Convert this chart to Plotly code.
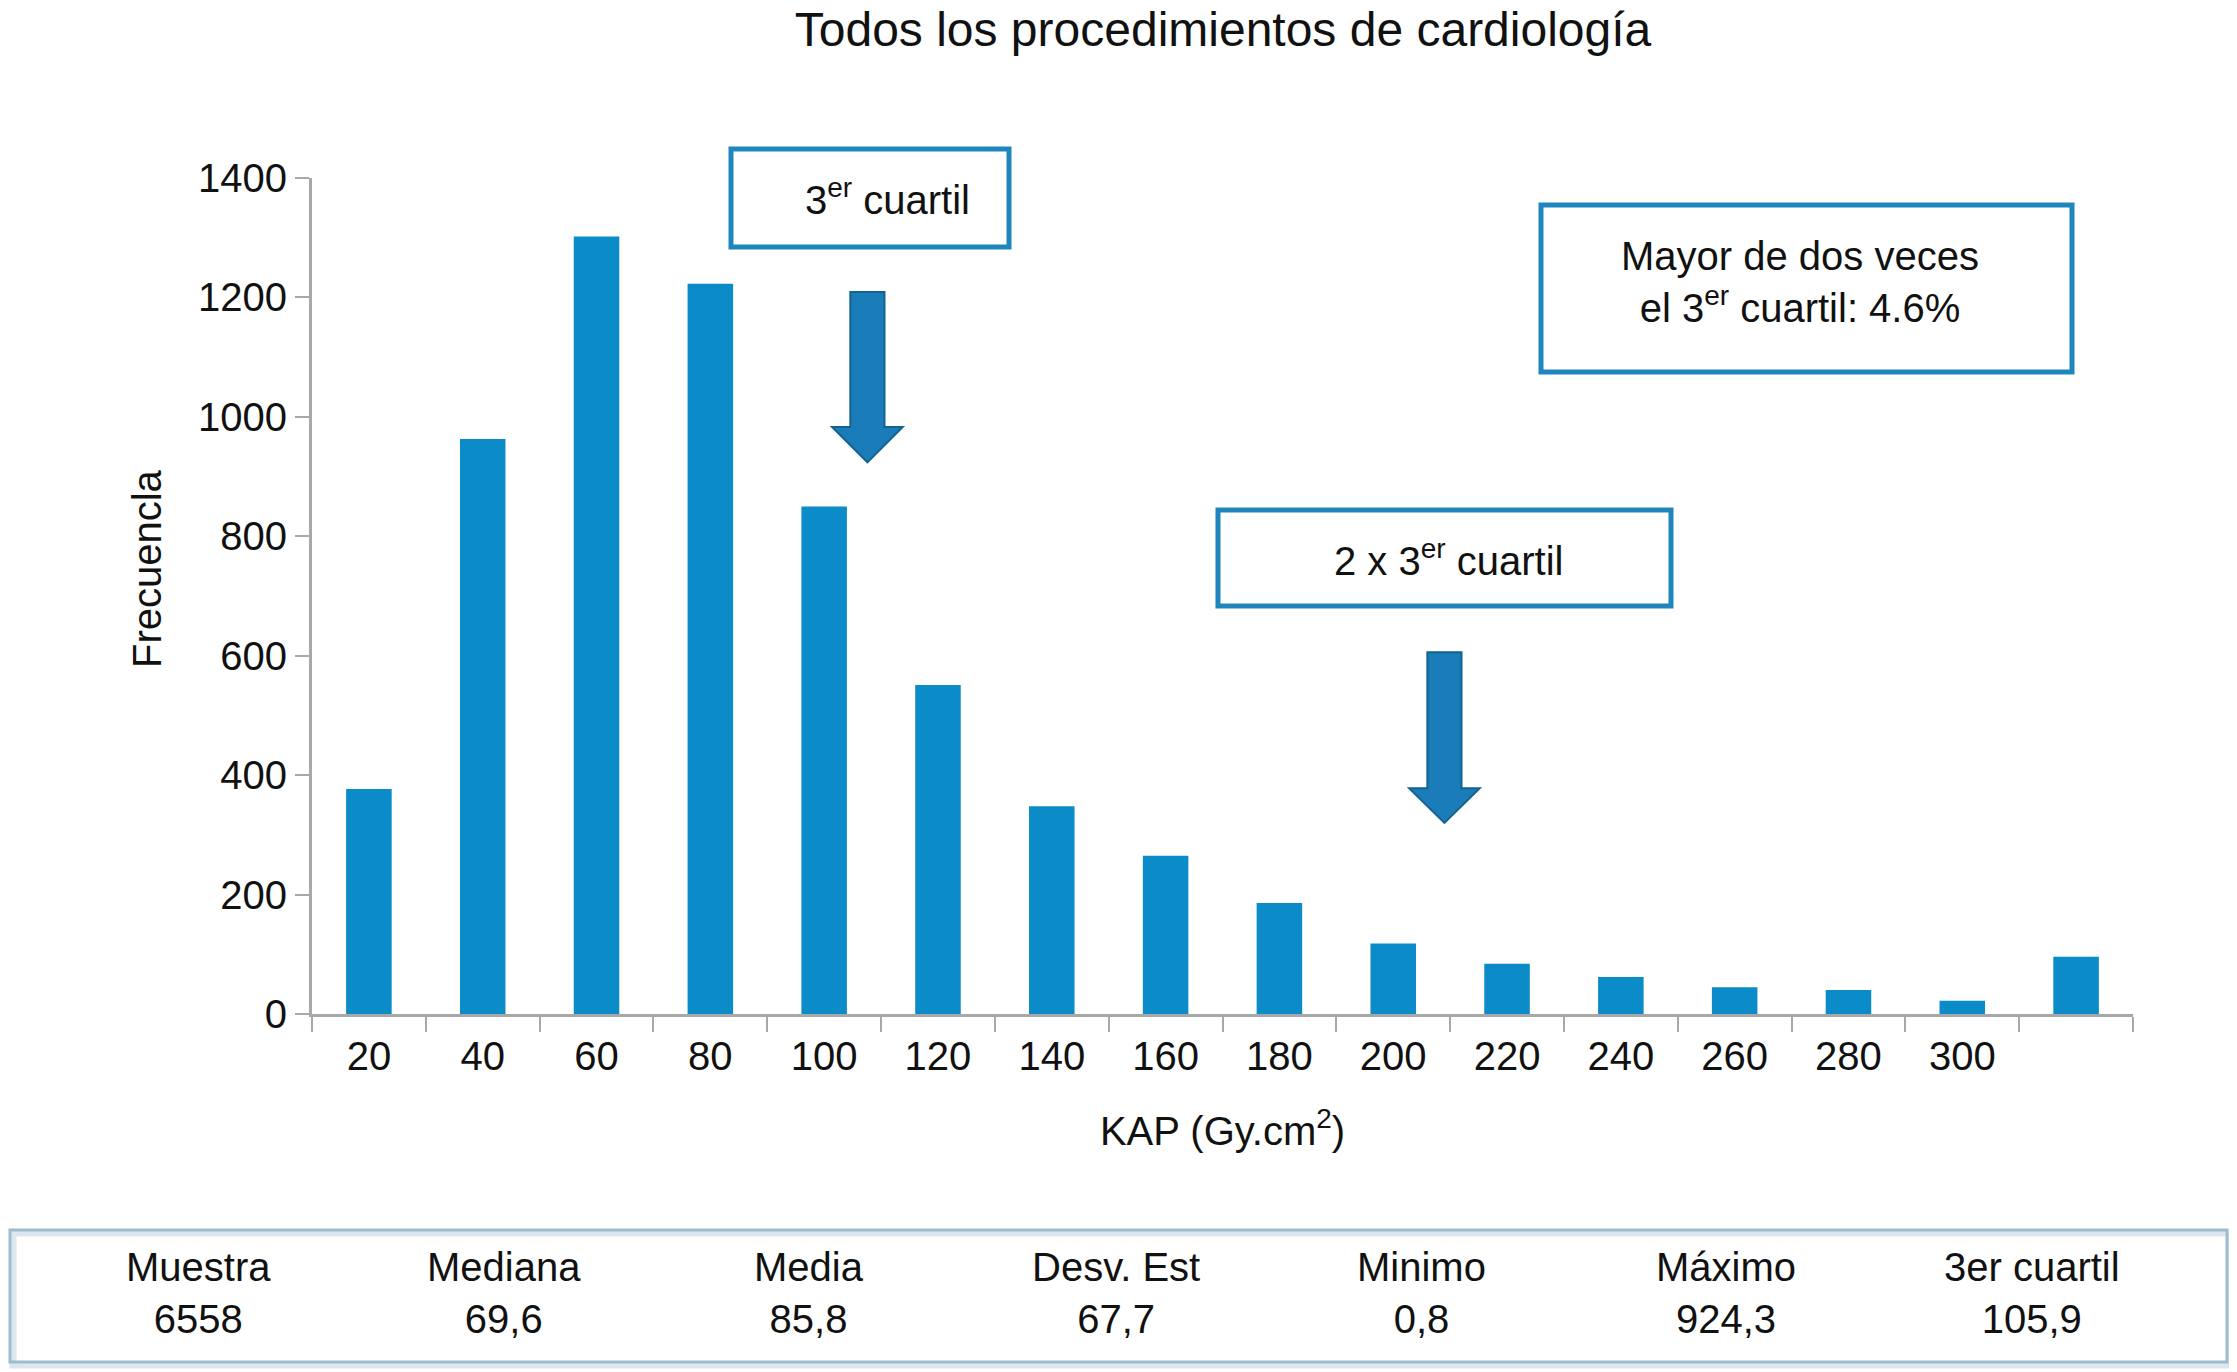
import plotly.graph_objects as go

# KAP bins (Gy.cm2) and frequency of procedures in each bin
kap_bins = ["20", "40", "60", "80", "100", "120", "140", "160",
            "180", "200", "220", "240", "260", "280", "300", ">300"]
frecuencia = [377, 963, 1302, 1223, 850, 551, 348, 265,
              186, 118, 84, 62, 45, 40, 22, 96]
tick_text = ["20", "40", "60", "80", "100", "120", "140", "160",
             "180", "200", "220", "240", "260", "280", "300", ""]

# summary statistics shown under the chart
stat_names = ["Muestra", "Mediana", "Media", "Desv. Est", "Minimo", "Máximo", "3er cuartil"]
stat_values = ["6558", "69,6", "85,8", "67,7", "0,8", "924,3", "105,9"]

# arrows: x in category serial units, y = (top, head start, tip) in frequency units
arrow_x = [4.38, 9.45]
arrow_y = [(1209, 983, 924), (606, 378, 320)]

W, H = 2237, 1372
OFF = 8                              # the page body adds an 8px margin
L, R, T, B = 312, 2133, 178, 1014    # plot area in page pixels
FONT = "Liberation Sans, Arial, Helvetica, sans-serif"
BLUE = "#0b8bc7"
BOX = "#1f85bd"


def px(x):
    return (x - L) / (R - L)


def py(y):
    return (B - y) / (B - T)


fig = go.Figure(go.Bar(
    x=kap_bins,
    y=frecuencia,
    width=0.4,
    marker=dict(color=BLUE, line=dict(width=0)),
    hoverinfo="x+y",
))

shapes = []
# block arrows
for xc, (top, head, tip) in zip(arrow_x, arrow_y):
    sw, hw = 0.15, 0.31
    path = (f"M {xc - sw},{top} L {xc + sw},{top} L {xc + sw},{head} "
            f"L {xc + hw},{head} L {xc},{tip} L {xc - hw},{head} "
            f"L {xc - sw},{head} Z")
    shapes.append(dict(type="path", xref="x", yref="y", path=path,
                       fillcolor="#1a7dba", line=dict(color="#14628f", width=2)))

# annotation boxes
boxes = [(731, 1009, 149, 247), (1541, 2072, 205, 372), (1218, 1671, 510, 606)]
for x0, x1, y0, y1 in boxes:
    shapes.append(dict(type="rect", xref="paper", yref="paper",
                       x0=px(x0), x1=px(x1), y0=py(y1), y1=py(y0),
                       line=dict(color=BOX, width=5), fillcolor="rgba(0,0,0,0)"))

# stats box with soft shadow
shapes.append(dict(type="rect", xref="paper", yref="paper",
                   x0=px(13), x1=px(2230), y0=py(1365), y1=py(1233),
                   line=dict(color="#dbe6ee", width=7), fillcolor="rgba(0,0,0,0)"))
shapes.append(dict(type="rect", xref="paper", yref="paper",
                   x0=px(10), x1=px(2227), y0=py(1362), y1=py(1230),
                   line=dict(color="#9fbccf", width=3), fillcolor="rgba(0,0,0,0)"))

annotations = [
    dict(text="3<sup>er</sup> cuartil", x=px(887), y=py(197)),
    dict(text="Mayor de dos veces<br>el 3<sup>er</sup> cuartil: 4.6%", x=px(1800), y=py(282)),
    dict(text="2 x 3<sup>er</sup> cuartil", x=px(1448), y=py(558)),
    dict(text="Frecuencla", x=px(147), y=py(569), textangle=-90),
]
stat_x = [198, 504, 809, 1116, 1421, 1726, 2032]
for sx, name, val in zip(stat_x, stat_names, stat_values):
    annotations.append(dict(text=f"{name}<br>{val}", x=px(sx), y=py(1293)))

for a in annotations:
    a.update(xref="paper", yref="paper", showarrow=False,
             xanchor="center", yanchor="middle", align="center",
             font=dict(family=FONT, size=40, color="#111111"))

fig.update_layout(
    width=W - OFF, height=H - OFF,
    margin=dict(l=L - OFF, r=W - R, t=T - OFF, b=H - B),
    paper_bgcolor="white", plot_bgcolor="white",
    font=dict(family=FONT, size=40, color="#111111"),
    showlegend=False,
    title=dict(text="Todos los procedimientos de cardiología",
               x=(1223 - OFF) / (W - OFF), xanchor="center", xref="container",
               y=1 - (29 - OFF) / (H - OFF), yanchor="middle", yref="container",
               font=dict(family=FONT, size=48, color="#111111")),
    xaxis=dict(
        type="category",
        tickmode="array", tickvals=kap_bins, ticktext=tick_text,
        tickson="boundaries", ticks="outside", ticklen=15, tickwidth=2,
        tickcolor="#a8a8a8", ticklabelstandoff=5,
        showline=True, linecolor="#a8a8a8", linewidth=3,
        showgrid=False, zeroline=False,
        range=[-0.5, 15.5],
        tickfont=dict(size=40),
        title=dict(text="KAP (Gy.cm<sup>2</sup>)", standoff=40,
                   font=dict(size=40)),
    ),
    yaxis=dict(
        range=[0, 1400], tickmode="linear", tick0=0, dtick=200,
        ticks="outside", ticklen=14, tickwidth=2, tickcolor="#a8a8a8",
        showline=True, linecolor="#a8a8a8", linewidth=3,
        showgrid=False, zeroline=False,
        tickfont=dict(size=40),
    ),
    shapes=shapes,
    annotations=annotations,
)

fig.write_html("out.html")
